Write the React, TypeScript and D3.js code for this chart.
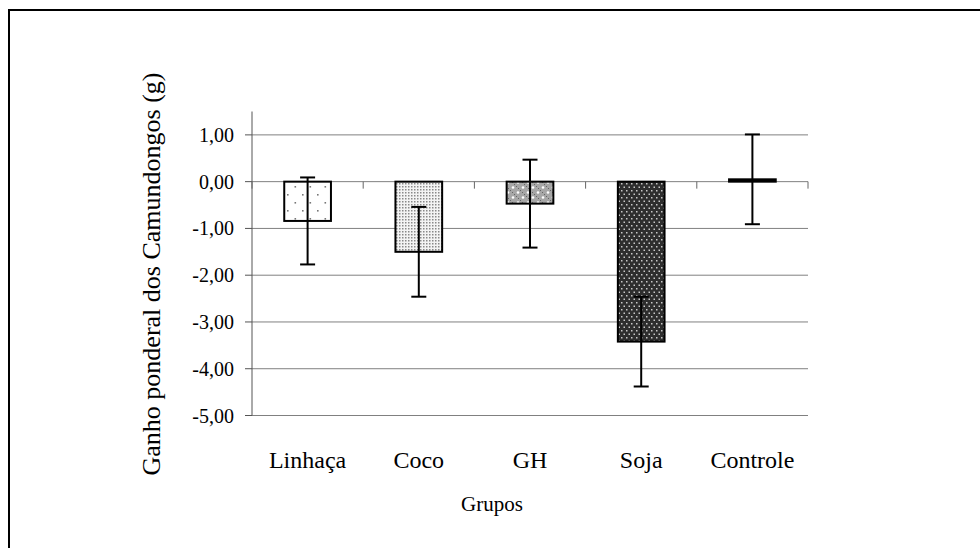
import React from "react";
import * as d3 from "d3";

const categories = ["Linhaça", "Coco", "GH", "Soja", "Controle"];
const means = [-0.84, -1.5, -0.47, -3.42, 0.05];
const errors = [0.93, 0.96, 0.94, 0.96, 0.96];
const yTicks = [1, 0, -1, -2, -3, -4, -5];
const patternIds = ["pLin", "pCoco", "pGH", "pSoja", "pCtrl"];

const W = 980;
const H = 548;
const FONT = "Liberation Serif";

export default function App() {
  const x = d3.scaleBand<string>().domain(categories).range([252, 808]).paddingInner(0).paddingOuter(0);
  const y = d3.scaleLinear().domain([-5, 1.5]).range([415.5, 111.5]);
  const bw = x.bandwidth() * 0.42;
  const fmt = (v: number) => d3.format(".2f")(v).replace(".", ",").replace("−", "-");
  const capW = 15;

  return (
    <svg width={W} height={H} style={{ position: "absolute", left: 0, top: 0, background: "#fff" }}>
      <defs>
        <pattern id="pLin" width={15} height={16} patternUnits="userSpaceOnUse">
          <rect width={15} height={16} fill="#fff" />
          <rect x={2} y={2} width={1.6} height={1.6} fill="#777" />
          <rect x={9.5} y={10} width={1.6} height={1.6} fill="#777" />
        </pattern>
        <pattern id="pCoco" width={3} height={3} patternUnits="userSpaceOnUse">
          <rect width={3} height={3} fill="#f4f4f4" />
          <rect x={0} y={0} width={1.5} height={1.5} fill="#8a8a8a" />
        </pattern>
        <pattern id="pGH" width={10} height={10} patternUnits="userSpaceOnUse">
          <rect width={10} height={10} fill="#a6a6a6" />
          <rect x={0} y={0} width={1} height={1} fill="#666" />
          <rect x={2} y={2} width={1} height={1} fill="#666" />
          <rect x={4} y={4} width={1} height={1} fill="#666" />
          <rect x={6} y={6} width={1} height={1} fill="#666" />
          <rect x={8} y={8} width={1} height={1} fill="#666" />
          <circle cx={3} cy={7.5} r={1.3} fill="#fff" />
          <circle cx={8} cy={2.5} r={1.3} fill="#fff" />
        </pattern>
        <pattern id="pSoja" width={5} height={7} patternUnits="userSpaceOnUse">
          <rect width={5} height={7} fill="#2e2e2e" />
          <rect x={1} y={1} width={1.5} height={1.5} fill="#c8c8c8" />
          <rect x={3.5} y={4.5} width={1.5} height={1.5} fill="#c8c8c8" />
        </pattern>
        <pattern id="pCtrl" width={4} height={4} patternUnits="userSpaceOnUse">
          <rect width={4} height={4} fill="#000" />
        </pattern>
      </defs>

      <rect x={9} y={10} width={990} height={560} fill="none" stroke="#000" strokeWidth={2} />

      {yTicks.map((t) => (
        <line key={"g" + t} x1={252} x2={808} y1={y(t)} y2={y(t)} stroke="#808080" strokeWidth={1} />
      ))}

      <line x1={252} x2={252} y1={y(1.5)} y2={y(-5)} stroke="#555" strokeWidth={1} />
      {yTicks.map((t) => (
        <g key={"t" + t}>
          <line x1={245} x2={252} y1={y(t)} y2={y(t)} stroke="#555" strokeWidth={1} />
          <text x={234} y={y(t)} dy="0.35em" textAnchor="end" fontFamily={FONT} fontSize={20} fill="#000">
            {fmt(t)}
          </text>
        </g>
      ))}

      {categories.map((c) => (
        <line key={"xt" + c} x1={x(c) as number} x2={x(c) as number} y1={y(0)} y2={y(0) + 7} stroke="#666" strokeWidth={1} />
      ))}
      <line x1={808} x2={808} y1={y(0)} y2={y(0) + 7} stroke="#666" strokeWidth={1} />

      {categories.map((c, i) => {
        const cx = (x(c) as number) + x.bandwidth() / 2;
        const v = means[i];
        const y0 = y(Math.max(0, v));
        const y1 = y(Math.min(0, v));
        return (
          <rect
            key={"b" + c}
            x={cx - bw / 2}
            y={y0}
            width={bw}
            height={Math.max(y1 - y0, 0.5)}
            fill={`url(#${patternIds[i]})`}
            stroke="#000"
            strokeWidth={2}
          />
        );
      })}

      {categories.map((c, i) => {
        const cx = (x(c) as number) + x.bandwidth() / 2;
        const top = y(means[i] + errors[i]);
        const bot = y(means[i] - errors[i]);
        return (
          <g key={"e" + c} stroke="#000" strokeWidth={2}>
            <line x1={cx} x2={cx} y1={top} y2={bot} />
            <line x1={cx - capW / 2} x2={cx + capW / 2} y1={top} y2={top} />
            <line x1={cx - capW / 2} x2={cx + capW / 2} y1={bot} y2={bot} />
          </g>
        );
      })}

      {categories.map((c) => (
        <text
          key={"l" + c}
          x={(x(c) as number) + x.bandwidth() / 2}
          y={468}
          textAnchor="middle"
          fontFamily={FONT}
          fontSize={24}
          fill="#000"
        >
          {c}
        </text>
      ))}

      <text x={492} y={511} textAnchor="middle" fontFamily={FONT} fontSize={21} fill="#000">
        Grupos
      </text>

      <text
        transform={`translate(160, 274) rotate(-90)`}
        textAnchor="middle"
        fontFamily={FONT}
        fontSize={26}
        fill="#000"
      >
        Ganho ponderal dos Camundongos (g)
      </text>
    </svg>
  );
}
